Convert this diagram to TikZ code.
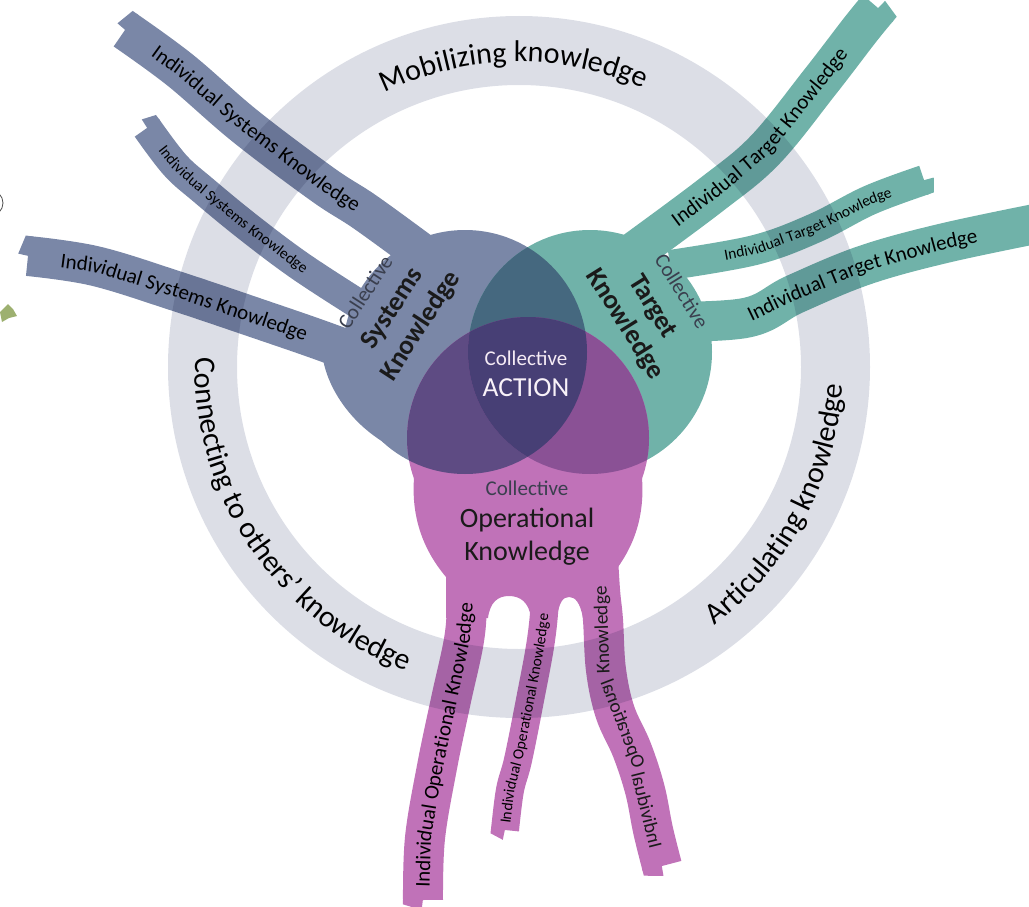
\documentclass[tikz,border=0pt]{standalone}
\usepackage{fontspec}
\setmainfont{Carlito}
\usetikzlibrary{decorations.text,calc}
\definecolor{ringc}{HTML}{DCDEE6}
\definecolor{sysc}{HTML}{7A87A7}
\definecolor{tarc}{HTML}{70B2A9}
\definecolor{opc}{HTML}{C072B8}
\definecolor{stc}{HTML}{45687F}
\definecolor{soc}{HTML}{5E4B83}
\definecolor{toc}{HTML}{8A5195}
\definecolor{allc}{HTML}{473F75}
\definecolor{txtc}{HTML}{1A1A1A}
\definecolor{softc}{HTML}{3A3F4E}
\definecolor{leafc}{HTML}{9DB070}
\newcommand{\bigt}{\fontsize{21}{21}\selectfont}
\newcommand{\midt}{\fontsize{19.5}{19.5}\selectfont}
\newcommand{\smallt}{\fontsize{15.5}{15.5}\selectfont}
\newcommand{\ringt}{\fontsize{30}{30}\selectfont}
\newcommand{\tooth}[4]{\begin{scope}[shift={#1},rotate=#2]\fill[#4] (-2,0) -- (-2,#3) -- (5,#3) -- (10,1) -- cycle;\end{scope}}
\tikzset{
  bigtent/.style={line width=40pt},
  smalltent/.style={line width=30pt},
  tlabel/.style={decorate,text=txtc,decoration={text along path,text align=center,raise=-6pt,text={#1}}},
  slabel/.style={decorate,text=txtc,decoration={text along path,text align=center,raise=-4.5pt,text={#1}}},
  ringlabel/.style={decorate,text=txtc,decoration={text along path,text align=center,text={#1}}},
}
\begin{document}
\begin{tikzpicture}[x=1pt,y=-1pt]
\useasboundingbox (0,0) rectangle (1029,907);
\coordinate (C) at (519,367);
\coordinate (S) at (465,352);
\coordinate (T) at (590,352);
\coordinate (O) at (528,438);
% left edge fragments
\draw[line width=0.8pt,black!70] (-10,203) circle (13);
\fill[leafc] (0,312) -- (8,304) -- (13,309) -- (17,316) -- (9,318) -- (2,322) -- cycle;
% systems tentacles
\draw[sysc,bigtent] plot[smooth,tension=0.6] coordinates {(125,30) (180,70) (245,126) (322,184) (365,212) (420,252)};
\draw[sysc,smalltent] plot[smooth,tension=0.6] coordinates {(147,128) (175,165) (203,190) (248,227) (300,266) (360,305)};
\draw[sysc,bigtent] plot[smooth,tension=0.6] coordinates {(28,256) (95,266) (176,291) (265,321) (320,340) (380,362)};
\tooth{(125,30)}{144}{20}{sysc}
\tooth{(147,128)}{127}{15}{sysc}
\tooth{(28,256)}{172}{20}{sysc}
\fill[sysc] (352,322) -- (322,352) .. controls (325,385) and (350,425) .. (392,447) -- (420,350) -- cycle;
% target tentacles
\draw[tarc,bigtent] plot[smooth,tension=0.6] coordinates {(630,255) (711,195) (765,150) (820,82) (860,30) (878,8)};
\draw[tarc,smalltent] plot[smooth,tension=0.6] coordinates {(670,265) (755,250) (815,228) (870,200) (924,180)};
\draw[tarc,bigtent] plot[smooth,tension=0.6] coordinates {(650,322) (745,318) (795,294) (865,265) (945,243) (1045,222)};
\tooth{(878,8)}{51}{20}{tarc}
\tooth{(924,180)}{20}{15}{tarc}
% operational tentacles
\draw[opc,bigtent] plot[smooth,tension=0.6] coordinates {(423,900) (425,838) (437,767) (451,700) (464,640) (467,600) (468,540)};
\draw[opc,line width=28pt] plot[smooth,tension=0.6] coordinates {(505,830) (510,790) (518,760) (530,700) (541,640) (545,595) (545,540)};
\draw[opc,bigtent] plot[smooth,tension=0.6] coordinates {(662,866) (653,830) (645,790) (632,750) (615,712) (606,670) (603,620) (600,590) (597,540)};
\tooth{(423,900)}{268}{20}{opc}
\tooth{(505,830)}{263}{14}{opc}
\tooth{(662,866)}{284}{20}{opc}
% bodies
\fill[sysc] (S) circle (122);
\fill[tarc] (T) circle (122);
\fill[opc] (O) circle (121);
\fill[opc] (414,478) -- (642,478) .. controls (645,520) and (632,550) .. (612,575) -- (618,618) -- (583,618) .. controls (580,602) and (575,597) .. (569,597) .. controls (563,597) and (559,602) .. (557,618) -- (531,618) .. controls (529,602) and (520,596) .. (509,596) .. controls (498,596) and (490,602) .. (488,618) -- (446,618) -- (446,577) .. controls (425,552) and (411,520) .. (414,478) -- cycle;
\begin{scope}
\clip (S) circle (122);
\fill[stc] (T) circle (122);
\fill[soc] (O) circle (121);
\end{scope}
\begin{scope}
\clip (T) circle (122);
\fill[toc] (O) circle (121);
\clip (S) circle (122);
\fill[allc] (O) circle (121);
\end{scope}
% ring
\fill[ringc,blend mode=multiply,even odd rule] (C) circle (351) (C) circle (282);
% tentacle labels
\path[tlabel={|\bigt|Individual Systems Knowledge}] (118,25) -- (180,70) -- (245,126) -- (322,184) -- (365,212) -- (395,232);
\path[slabel={|\smallt|Individual Systems Knowledge}] (140,120) -- (175,165) -- (203,190) -- (248,227) -- (300,266) -- (335,290);
\path[tlabel={|\bigt|Individual Systems Knowledge}] (10,255) -- (95,266) -- (176,291) -- (265,321) -- (320,340) -- (355,352);
\path[tlabel={|\bigt|Individual Target Knowledge}] (630,255) -- (711,195) -- (765,150) -- (820,82) -- (860,30) -- (878,8);
\path[slabel={|\smallt|Individual Target Knowledge}] (690,262) -- (755,250) -- (815,228) -- (870,200) -- (924,180);
\path[tlabel={|\bigt|Individual Target Knowledge}] (680,322) -- (745,318) -- (795,294) -- (865,265) -- (945,243) -- (1045,222);
\path[tlabel={|\bigt|Individual Operational Knowledge}] (423,905) -- (425,838) -- (437,767) -- (451,700) -- (464,640) -- (467,600) -- (468,585);
\path[slabel={|\smallt|Individual Operational Knowledge}] (505,832) -- (510,790) -- (518,760) -- (530,700) -- (541,640) -- (545,605);
% ring labels
\path[ringlabel={|\ringt|Mobilizing knowledge}] ($(C)+(-151:305)$) arc[start angle=-151,end angle=-31,radius=305];
\path[ringlabel={|\ringt|Connecting to others’ knowledge}] ($(C)+(-144:324)$) arc[start angle=-144,end angle=-284,radius=324];
\path[ringlabel={|\ringt|Articulating knowledge}] ($(C)+(88:324)$) arc[start angle=88,end angle=-32,radius=324];
% operational tentacle 3 labels
\node[rotate=92,font=\midt,text=txtc] (o3k) at (603,630) {Knowledge};
\node[rotate=111,font=\midt,text=txtc] (o3o) at (622,724) {\scalebox{1}[-1]{Operational}};
\node[rotate=104,font=\midt,text=txtc] (o3i) at (647,810) {\scalebox{1}[-1]{Individual}};
% body texts
\node[anchor=base,font=\fontsize{21}{21}\selectfont,text=white!92!violet] (actA) at (526,365) {Collective};
\node[anchor=base,font=\fontsize{27.5}{27.5}\selectfont,text=white!95!violet] (actB) at (526,396) {ACTION};
\node[anchor=base,font=\fontsize{21}{21}\selectfont,text=softc] (opA) at (527,495) {Collective};
\node[anchor=base,font=\fontsize{28}{28}\selectfont,text=txtc] (opB) at (527,527) {Operational};
\node[anchor=base,font=\fontsize{28}{28}\selectfont,text=txtc] (opC) at (527,560) {Knowledge};
\node[rotate=57,font=\fontsize{21}{21}\selectfont,text=softc] (sA) at (365,292) {Collective};
\node[rotate=57,font=\bfseries\fontsize{27}{27}\selectfont,text=txtc] (sB) at (393,309) {Systems};
\node[rotate=57,font=\bfseries\fontsize{27}{27}\selectfont,text=txtc] (sC) at (421,326) {Knowledge};
\node[rotate=-58,font=\fontsize{21}{21}\selectfont,text=softc] (tA) at (682,291) {Collective};
\node[rotate=-58,font=\bfseries\fontsize{27}{27}\selectfont,text=txtc] (tB) at (652,307) {Target};
\node[rotate=-58,font=\bfseries\fontsize{27}{27}\selectfont,text=txtc] (tC) at (625,324) {Knowledge};
\end{tikzpicture}
\end{document}
